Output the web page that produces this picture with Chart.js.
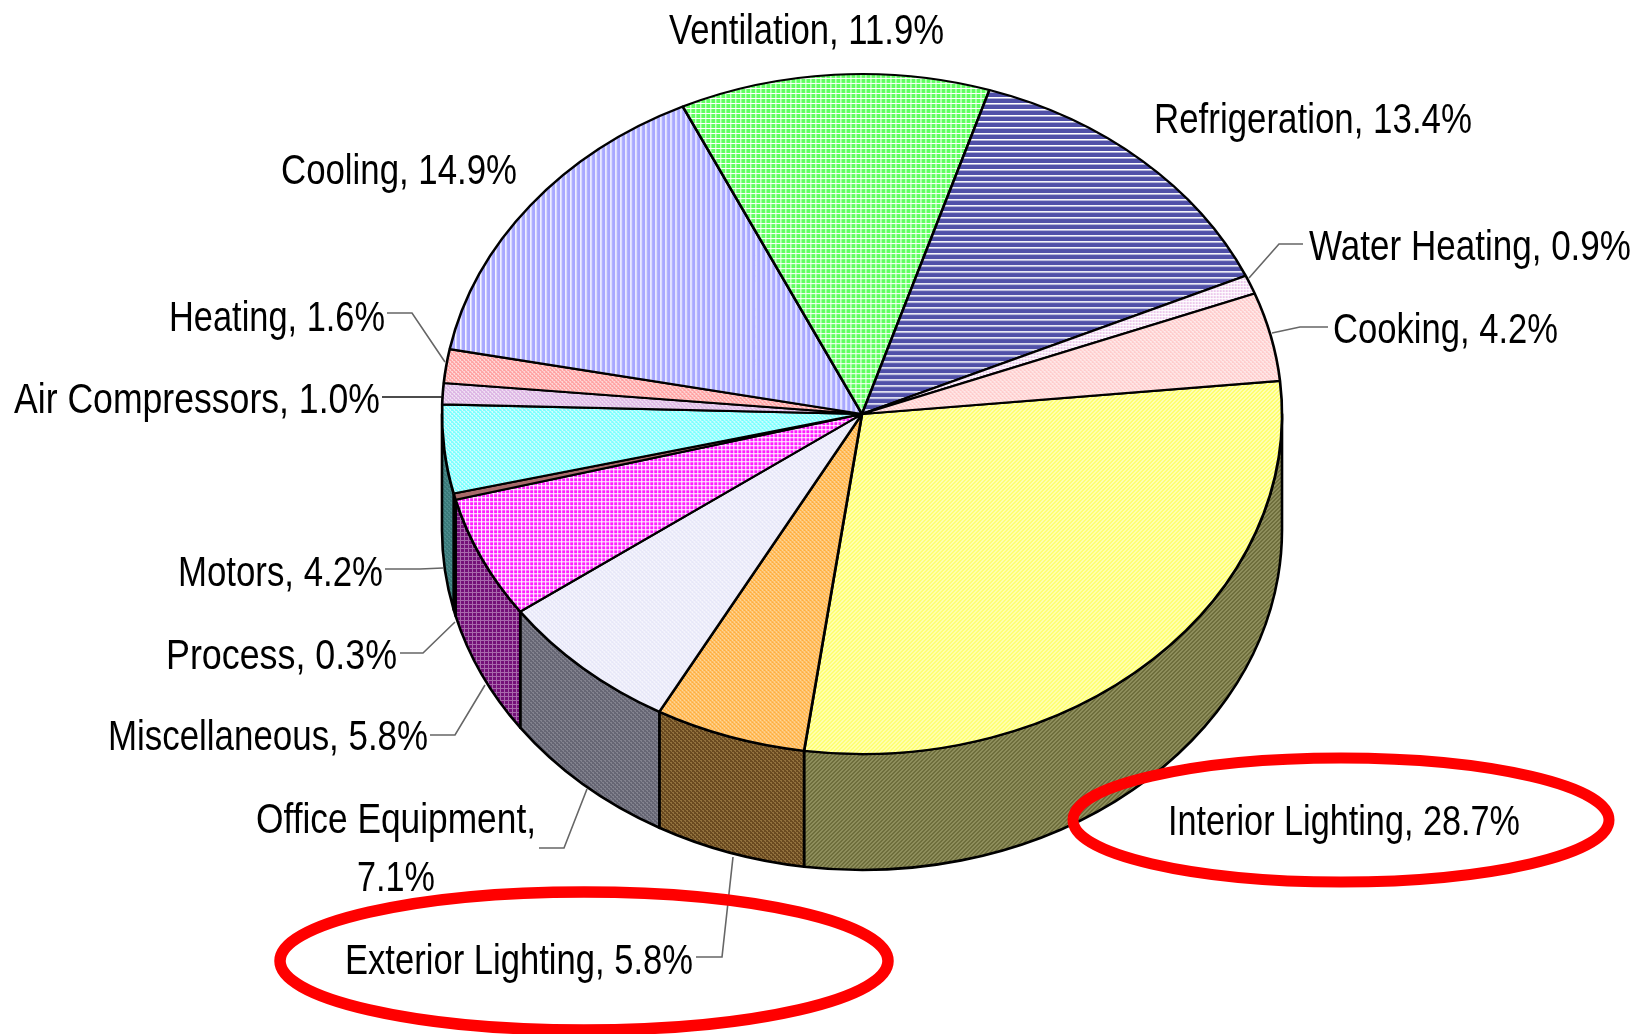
<!DOCTYPE html>
<html>
<head>
<meta charset="utf-8">
<style>html,body{margin:0;padding:0;background:#fff}canvas{display:block}</style>
<script src="https://cdn.jsdelivr.net/npm/chart.js@4"></script>
</head>
<body>
<canvas id="c" width="1644" height="1034"></canvas>
<script>
const categories = ["Interior Lighting","Exterior Lighting","Office Equipment","Miscellaneous","Process","Motors","Air Compressors","Heating","Cooling","Ventilation","Refrigeration","Water Heating","Cooking"];
const shares = [28.7,5.8,7.1,5.8,0.3,4.2,1.0,1.6,14.9,11.9,13.4,0.9,4.2];

const topBase   = ["#ffff5c","#ffae3c","#e6e6f8","#ff1eff","#a86a6a","#78ffff","#dcb4e4","#ffa0a0","#a8a8ff","#60ff60","#5050a8","#ecc8ec","#ffcccc"];
const topLight  = ["#ffffc8","#ffe0b0","#fafaff","#ffffff","#a86a6a","#e0ffff","#f4e8f6","#ffe0e0","#ffffff","#ffffff","#ffffff","#ffffff","#fff2f2"];
const wallBase  = ["#6e6e3c","#6a4a20","#666674","#741078","#663c3c","#3a7a7a","#705c74","#7c5858","#58587c","#327c32","#2a2a54","#7c6c7c","#7c6c6c"];
const wallLight = ["#8e8e5c","#92723e","#82828e","#a868ac","#663c3c","#4c8c8c","#80708a","#8c6868","#68688c","#428c42","#3a3a64","#8c7c8c","#8c7c7c"];
const topKind   = ["diag","dots","dots","grid4","none","dots","dots","dots","vlines","grid5","hlines","grid3","dots"];
const wallKind  = ["diag","dots","dots","grid4","none","dots","dots","dots","vlines","grid5","hlines","grid3","dots"];

// label layout: left x, baseline y, right x
const labelBoxes = [
  [1168,835,1520],[345,974,693],[256,833,536],[108,750,428],[166,669,397],[178,586,383],
  [14,413,380],[169,331,385],[281,184,517],[669,44,944],[1154,133,1472],[1309,260,1631],[1333,343,1558]
];
const wrappedPctBox = [357,891,435];
const leaders = [
  null,
  [[733,857],[722,957],[696,957]],
  [[587,789],[564,848],[539,848]],
  [[485,685],[455,735],[430,735]],
  [[455,622],[423,653],[400,653]],
  [[443,568],[420,569],[385,569]],
  [[442,397],[382,397]],
  [[445,362],[412,313],[387,313]],
  null,null,null,
  [[1249,278],[1279,244],[1303,244]],
  [[1272,333],[1300,327],[1328,327]]
];
const redRings = [[1341,820,268,62,11],[584,961,304,69,11.5]];

const CX = 862, CY = 414, RX = 420, RY = 340, DEPTH = 116, LINE = 2.6;
const PIE_R = 413;
const FONT = '42px "Liberation Sans Narrow","Liberation Sans",Arial,sans-serif';

function makePattern(kind, base, light, ctx, unscale){
  if (kind === "none") return base;
  const sizes = {diag:4,dots:4,grid3:3,grid4:4,grid5:5,vlines:5,hlines:6};
  const s = sizes[kind];
  const p = document.createElement("canvas");
  p.width = s; p.height = s;
  const g = p.getContext("2d");
  g.fillStyle = base; g.fillRect(0,0,s,s);
  g.fillStyle = light;
  if (kind === "diag"){ for(let i=0;i<4;i++){ g.fillRect(i,(3-i+4)%4,1,1); g.fillRect(i,(4-i+4)%4,1,1);} }
  if (kind === "dots"){ g.fillRect(0,0,2,1); g.fillRect(2,2,2,1); g.fillRect(1,1,1,1); g.fillRect(3,3,1,1); }
  if (kind === "grid3"||kind==="grid4"||kind==="grid5"){ g.fillRect(0,0,s,1); g.fillRect(0,0,1,s); }
  if (kind === "vlines"){ g.fillRect(0,0,1,s); g.globalAlpha=.45; g.fillRect(1,0,1,s); g.globalAlpha=1; }
  if (kind === "hlines"){ g.fillRect(0,0,s,1); g.globalAlpha=.55; g.fillRect(0,1,s,1); g.globalAlpha=1; }
  const pat = ctx.createPattern(p,"repeat");
  if (unscale) pat.setTransform(new DOMMatrix().scale(PIE_R/RX,PIE_R/RY));
  return pat;
}

const cv = document.getElementById("c");
const ctx = cv.getContext("2d");
const topFills = topBase.map((b,i)=>makePattern(topKind[i],b,topLight[i],ctx,true));
const wallFills = wallBase.map((b,i)=>makePattern(wallKind[i],b,wallLight[i],ctx,false));

const pie3d = {
  id:"pie3d",
  beforeDatasetsDraw(chart){
    const c = chart.ctx, arcs = chart.getDatasetMeta(0).data;
    const TAU = Math.PI*2;
    c.save();
    arcs.forEach((arc,i)=>{
      let a0 = arc.startAngle, a1 = arc.endAngle;
      while (a0 < -Math.PI) { a0 += TAU; a1 += TAU; }
      while (a0 >= Math.PI) { a0 -= TAU; a1 -= TAU; }
      const s = Math.max(a0,0), e = Math.min(a1,Math.PI);
      if (e <= s) return;
      c.beginPath();
      c.ellipse(CX,CY,RX,RY,0,s,e,false);
      c.ellipse(CX,CY+DEPTH,RX,RY,0,e,s,true);
      c.closePath();
      c.fillStyle = wallFills[i];
      c.fill();
      c.lineWidth = LINE; c.strokeStyle = "#000"; c.lineJoin="round";
      c.stroke();
    });
    c.restore();
    const r = arcs[0].outerRadius;
    c.save();
    c.translate(CX,CY);
    c.scale(RX/r,RY/r);
    c.translate(-arcs[0].x,-arcs[0].y);
  },
  afterDatasetsDraw(chart){
    const c = chart.ctx;
    c.restore();
    c.save();
    leaders.forEach((pts,i)=>{
      if(!pts) return;
      c.beginPath();
      pts.forEach((p,k)=>k?c.lineTo(p[0],p[1]):c.moveTo(p[0],p[1]));
      c.lineWidth = 1.6;
      c.strokeStyle = i===6 ? "#111" : "#666";
      c.stroke();
    });
    c.fillStyle="#000"; c.font=FONT; c.textBaseline="alphabetic"; c.textAlign="left";
    categories.forEach((name,i)=>{
      const b = labelBoxes[i], pct = shares[i].toFixed(1)+"%";
      if(i===2){
        c.fillText(name+",",b[0],b[1],b[2]-b[0]);
        c.fillText(pct,wrappedPctBox[0],wrappedPctBox[1],wrappedPctBox[2]-wrappedPctBox[0]);
      } else {
        c.fillText(name+", "+pct,b[0],b[1],b[2]-b[0]);
      }
    });
    redRings.forEach(r=>{
      c.beginPath();
      c.ellipse(r[0],r[1],r[2],r[3],0,0,Math.PI*2);
      c.lineWidth=r[4]; c.strokeStyle="#ff0000"; c.stroke();
    });
    c.restore();
  }
};

new Chart(ctx,{
  type:"pie",
  data:{labels:categories,datasets:[{data:shares,backgroundColor:topFills,borderColor:"#000",borderWidth:LINE}]},
  options:{
    responsive:false,animation:false,rotation:84.4,
    layout:{padding:{left:448,right:368,top:0,bottom:206}},
    plugins:{legend:{display:false},tooltip:{enabled:false}},
    events:[]
  },
  plugins:[pie3d]
});
</script>
</body>
</html>
